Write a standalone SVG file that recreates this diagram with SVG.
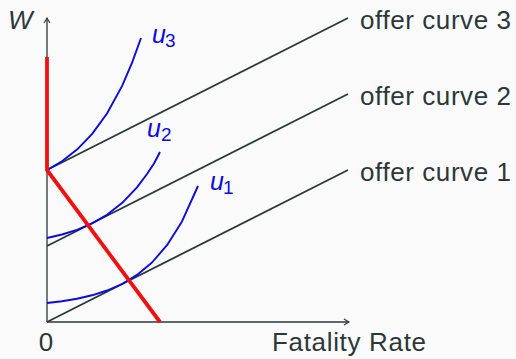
<svg xmlns="http://www.w3.org/2000/svg" width="516" height="359" viewBox="0 0 516 359">
<defs>
<style>
.ax{stroke:#2b3838;stroke-width:1.3;fill:none}
.oc{stroke:#2b3838;stroke-width:1.8;fill:none}
.u{stroke:#0a0ae6;stroke-width:1.9;fill:none;stroke-linejoin:round}
.red{stroke:#f01010;stroke-width:3.8;fill:none;stroke-linejoin:miter}
.t{font-family:"Liberation Sans",Arial,sans-serif;font-size:26px;fill:#2b3838}
.ul{font-family:"Liberation Sans",Arial,sans-serif;font-style:italic;font-size:25px;fill:#0a0ae6}
.sub{font-family:"Liberation Sans",Arial,sans-serif;font-size:19px;fill:#0a0ae6}
</style>
<marker id="arr" markerWidth="8" markerHeight="8" refX="6" refY="4" orient="auto" markerUnits="userSpaceOnUse">
<path d="M1,1 Q4,3 6,4 Q4,5 1,7" fill="none" stroke="#2b3838" stroke-width="1.1"/>
</marker>
</defs>
<rect width="516" height="359" fill="#fafafa"/>
<g id="axes">
<line class="ax" x1="47" y1="322" x2="47" y2="18" marker-end="url(#arr)"/>
<line class="ax" x1="47" y1="322" x2="349" y2="322" marker-end="url(#arr)"/>
<text class="t" x="8" y="29" font-style="italic">W</text>
<text class="t" x="46" y="351" text-anchor="middle">0</text>
<text class="t" x="272" y="351" textLength="154" lengthAdjust="spacing">Fatality Rate</text>
</g>
<g id="offer-curves">
<line class="oc" x1="47" y1="322" x2="348" y2="170"/>
<line class="oc" x1="47" y1="246" x2="348" y2="94"/>
<line class="oc" x1="47" y1="170" x2="348" y2="18"/>
<text class="t" x="360" y="181" textLength="151" lengthAdjust="spacing">offer curve 1</text>
<text class="t" x="360" y="105" textLength="151" lengthAdjust="spacing">offer curve 2</text>
<text class="t" x="360" y="29" textLength="151" lengthAdjust="spacing">offer curve 3</text>
</g>
<g id="indifference-curves">
<polyline class="u" points="47,303 62,301.2 77,298.7 92,295.3 107,290.5 122,284 137,274.9 152,262.5 167,245.2 182,221.4 198,186"/>
<polyline class="u" points="47,238 62,234.5 77,229.8 92,223.4 107,214.8 122,203.1 137,187.4 147,174 154,163.5 160,152"/>
<polyline class="u" points="47,170 62,161.2 77,149.6 92,134.1 107,113.5 122,86.1 132,62.9 141,38"/>
<text class="ul" x="210" y="190">u</text><text class="sub" x="223" y="194">1</text>
<text class="ul" x="147" y="137">u</text><text class="sub" x="161" y="141">2</text>
<text class="ul" x="152" y="43">u</text><text class="sub" x="165" y="47">3</text>
</g>
<g id="red-curve">
<polyline class="red" points="47,57 47,170 160,322"/>
</g>
</svg>
